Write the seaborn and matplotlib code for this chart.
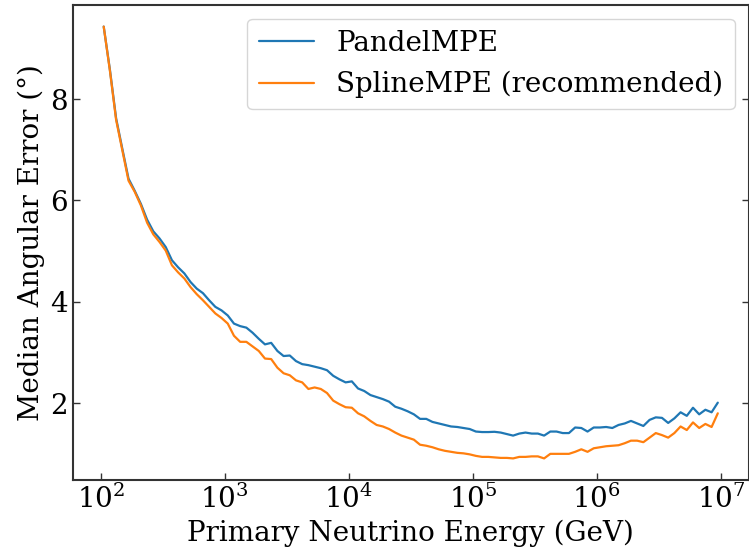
import numpy as np
import pandas as pd
import matplotlib
matplotlib.use("Agg")
import matplotlib.pyplot as plt
import matplotlib.ticker as mticker
import seaborn as sns

# log10 of bin-centre energies (GeV)
log_energy = [
    2.025, 2.075, 2.125, 2.175, 2.225, 2.275, 2.325, 2.375, 2.425, 2.475,
    2.525, 2.575, 2.625, 2.675, 2.725, 2.775, 2.825, 2.875, 2.925, 2.975,
    3.025, 3.075, 3.125, 3.175, 3.225, 3.275, 3.325, 3.375, 3.425, 3.475,
    3.525, 3.575, 3.625, 3.675, 3.725, 3.775, 3.825, 3.875, 3.925, 3.975,
    4.025, 4.075, 4.125, 4.175, 4.225, 4.275, 4.325, 4.375, 4.425, 4.475,
    4.525, 4.575, 4.625, 4.675, 4.725, 4.775, 4.825, 4.875, 4.925, 4.975,
    5.025, 5.075, 5.125, 5.175, 5.225, 5.275, 5.325, 5.375, 5.425, 5.475,
    5.525, 5.575, 5.625, 5.675, 5.725, 5.775, 5.825, 5.875, 5.925, 5.975,
    6.025, 6.075, 6.125, 6.175, 6.225, 6.275, 6.325, 6.375, 6.425, 6.475,
    6.525, 6.575, 6.625, 6.675, 6.725, 6.775, 6.825, 6.875, 6.925, 6.975,
]

pandel_mpe = [
    9.43, 8.58, 7.62, 7.02, 6.43, 6.19, 5.93, 5.62, 5.39, 5.25,
    5.08, 4.82, 4.68, 4.56, 4.39, 4.26, 4.17, 4.03, 3.90, 3.83,
    3.73, 3.57, 3.52, 3.49, 3.39, 3.27, 3.16, 3.19, 3.03, 2.93,
    2.94, 2.83, 2.77, 2.75, 2.72, 2.69, 2.65, 2.54, 2.47, 2.41,
    2.43, 2.29, 2.24, 2.16, 2.12, 2.08, 2.03, 1.93, 1.89, 1.84,
    1.78, 1.69, 1.69, 1.63, 1.60, 1.57, 1.54, 1.53, 1.51, 1.49,
    1.44, 1.43, 1.43, 1.435, 1.42, 1.39, 1.36, 1.40, 1.42, 1.40,
    1.40, 1.36, 1.44, 1.44, 1.41, 1.41, 1.52, 1.51, 1.44, 1.52,
    1.52, 1.53, 1.51, 1.57, 1.60, 1.65, 1.60, 1.55, 1.67, 1.72,
    1.71, 1.61, 1.70, 1.82, 1.75, 1.91, 1.78, 1.87, 1.82, 2.01,
]

spline_mpe = [
    9.43, 8.56, 7.59, 6.99, 6.39, 6.17, 5.90, 5.56, 5.33, 5.18,
    5.01, 4.72, 4.58, 4.46, 4.29, 4.15, 4.03, 3.90, 3.77, 3.68,
    3.57, 3.33, 3.21, 3.21, 3.12, 3.03, 2.88, 2.87, 2.70, 2.59,
    2.55, 2.45, 2.41, 2.28, 2.31, 2.28, 2.20, 2.05, 1.98, 1.92,
    1.91, 1.80, 1.74, 1.65, 1.57, 1.54, 1.49, 1.42, 1.36, 1.32,
    1.28, 1.18, 1.16, 1.13, 1.09, 1.06, 1.04, 1.02, 1.01, 0.99,
    0.96, 0.94, 0.94, 0.93, 0.92, 0.92, 0.91, 0.94, 0.94, 0.95,
    0.95, 0.91, 1.00, 1.00, 1.00, 1.00, 1.04, 1.09, 1.04, 1.11,
    1.13, 1.15, 1.16, 1.17, 1.21, 1.26, 1.26, 1.23, 1.32, 1.41,
    1.37, 1.32, 1.41, 1.54, 1.47, 1.62, 1.51, 1.59, 1.53, 1.80,
]

series_names = ["PandelMPE", "SplineMPE (recommended)"]
series_colors = ["#1f77b4", "#ff7f0e"]

energy = [10 ** v for v in log_energy]

sns.set_theme(style="ticks")
plt.rcParams["font.family"] = ["DejaVu Serif"]
plt.rcParams["mathtext.fontset"] = "dejavuserif"
plt.rcParams["text.color"] = "black"
plt.rcParams["axes.labelcolor"] = "black"
plt.rcParams["xtick.labelcolor"] = "black"
plt.rcParams["ytick.labelcolor"] = "black"

FS = 20

fig = plt.figure(figsize=(7.49, 5.51), dpi=100)
ax = fig.add_axes([73 / 749, 1 - 480 / 551, (748.5 - 73) / 749, (480 - 5) / 551])

for name, vals, col in zip(series_names, [pandel_mpe, spline_mpe], series_colors):
    df = pd.DataFrame({"E": energy, "err": vals})
    sns.lineplot(data=df, x="E", y="err", ax=ax, color=col, linewidth=1.6,
                 label=name, estimator=None, sort=False)

ax.set_xscale("log")
ax.xaxis.set_major_locator(mticker.LogLocator(base=10))
ax.xaxis.set_minor_locator(mticker.NullLocator())
ax.set_yticks([2, 4, 6, 8])

ax.set_xlabel("Primary Neutrino Energy (GeV)", fontsize=FS, color="black")
ax.set_ylabel("Median Angular Error (°)", fontsize=FS, color="black")
ax.tick_params(axis="both", which="major", direction="in", labelsize=FS,
               length=5, width=1.0, color="#333333", labelcolor="black")
ax.tick_params(axis="y", right=True)
ax.tick_params(axis="x", top=False)
for s in ax.spines.values():
    s.set_visible(True)
    s.set_color("#333333")
    s.set_linewidth(1.5)

leg = ax.legend(loc="upper right", fontsize=FS, frameon=True)
leg.get_frame().set_edgecolor("#cccccc")
for t in leg.get_texts():
    t.set_color("black")

fig.savefig("out.png", dpi=100)
